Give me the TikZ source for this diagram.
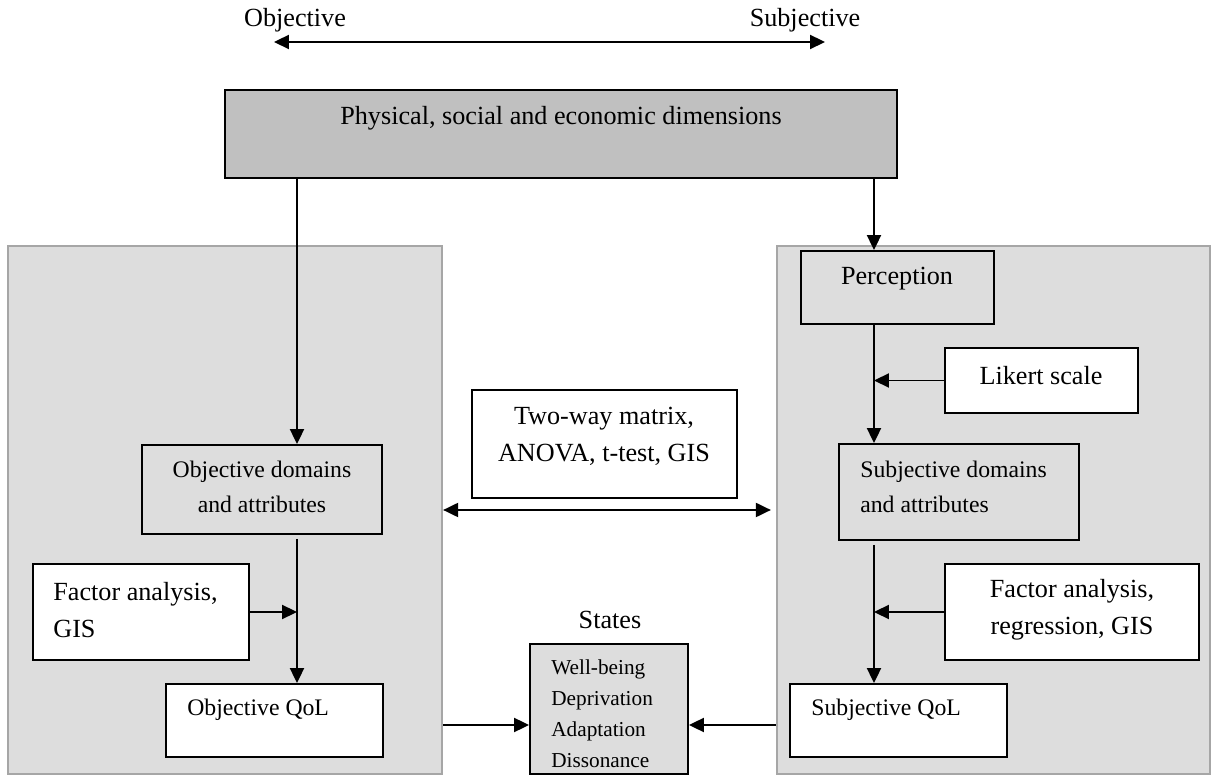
\documentclass[tikz,border=0pt]{standalone}
\usepackage{fontspec}
\setmainfont{Liberation Serif}
\usetikzlibrary{arrows.meta,fit}
\definecolor{topgray}{HTML}{C0C0C0}
\definecolor{panelgray}{HTML}{DDDDDD}
\definecolor{panelline}{HTML}{A6A6A6}
\tikzset{
  box/.style={draw=black, line width=1.1pt, inner sep=0pt},
  graybox/.style={box, fill=panelgray},
  whitebox/.style={box, fill=white},
  topbox/.style={box, fill=topgray},
  panel/.style={draw=panelline, line width=1.3pt, fill=panelgray, inner sep=0pt},
  arr/.style={line width=1pt, -{Triangle[length=8.5pt,width=8pt]}},
  darr/.style={line width=1pt, {Triangle[length=8.5pt,width=8pt]}-{Triangle[length=8.5pt,width=8pt]}},
  big/.style={inner sep=0pt, font=\fontsize{14.9}{21.2}\selectfont},
  mid/.style={inner sep=0pt, font=\fontsize{13.5}{19.8}\selectfont},
  small/.style={inner sep=0pt, font=\fontsize{12.1}{17.6}\selectfont},
}
\begin{document}
\begin{tikzpicture}[x=0.02cm, y=-0.02cm]
\useasboundingbox (0,0) rectangle (1211,776);
% top labels and double arrow
\node[big] (lobj) at (295,20) {Objective};
\node[big] (lsubj) at (805,20) {Subjective};
\coordinate (tipL) at (274,42);
\coordinate (tipR) at (825,42);
\draw[darr] (tipL) -- (tipR);
% top box
\node[topbox, fit={(225,90) (897,178)}] (top) {};
\node[big] (toptxt) at (561,118) {Physical, social and economic dimensions};
% panels
\node[panel, fit={(8,246) (442,774)}] (panelL) {};
\node[panel, fit={(777,246) (1210,774)}] (panelR) {};
% left column
\node[graybox, fit={(142,445) (382,534)}] (objdom) {};
\node[mid, align=center] (objdomtxt) at (262,487) {Objective domains\\and attributes};
\node[whitebox, fit={(33,564) (249,660)}] (faL) {};
\node[big, align=left, anchor=west] (faLtxt) at (53,610) {Factor analysis,\\GIS};
\node[whitebox, fit={(166,684) (383,757)}] (objqol) {};
\node[mid, anchor=west] (objqoltxt) at (187,710) {Objective QoL};
% middle
\node[whitebox, fit={(472,390) (737,498)}] (twoway) {};
\node[big, align=center] (twowaytxt) at (604,436) {Two-way matrix,\\ANOVA, t-test, GIS};
\node[big] (stateslbl) at (610,620) {States};
\node[graybox, fit={(530,644) (688,774)}] (states) {};
\node[small, align=left, anchor=west] (statestxt) at (551,714) {Well-being\\Deprivation\\Adaptation\\Dissonance};
% right column
\node[graybox, fit={(801,251) (994,324)}] (perc) {};
\node[big] (perctxt) at (897,279) {Perception};
\node[whitebox, fit={(945,348) (1138,413)}] (likert) {};
\node[big] (likerttxt) at (1041,376) {Likert scale};
\node[graybox, fit={(839,444) (1079,540)}] (subjdom) {};
\node[mid, align=left, anchor=west] (subjdomtxt) at (860,487) {Subjective domains\\and attributes};
\node[whitebox, fit={(945,564) (1199,660)}] (faR) {};
\node[big, align=center] (faRtxt) at (1072,610) {Factor analysis,\\regression, GIS};
\node[whitebox, fit={(790,684) (1007,757)}] (subjqol) {};
\node[mid, anchor=west] (subjqoltxt) at (811,710) {Subjective QoL};
% helper coordinates
\coordinate (xL) at (297,0);
\coordinate (xR) at (874,0);
\coordinate (yM) at (0,510);
\coordinate (yS) at (0,725);
\coordinate (yF) at (0,612);
% connectors
\draw[arr] (top.south -| xL) -- (objdom.north -| xL);
\draw[arr] (top.south -| xR) -- (perc.north -| xR);
\draw[arr] (perc.south -| xR) -- (subjdom.north -| xR);
\draw[arr] (likert.west) -- (likert.west -| xR);
\draw[arr] ([yshift=-0.08cm]subjdom.south -| xR) -- (subjqol.north -| xR);
\draw[arr] (faR.west |- yF) -- (xR |- yF);
\draw[arr] ([yshift=-0.08cm]objdom.south -| xL) -- (objqol.north -| xL);
\draw[arr] (faL.east |- yF) -- (xL |- yF);
\draw[darr, shorten >=0.1cm] (panelL.east |- yM) -- (panelR.west |- yM);
\draw[arr] (panelL.east |- yS) -- (states.west |- yS);
\draw[arr] (panelR.west |- yS) -- (states.east |- yS);
\end{tikzpicture}
\end{document}
